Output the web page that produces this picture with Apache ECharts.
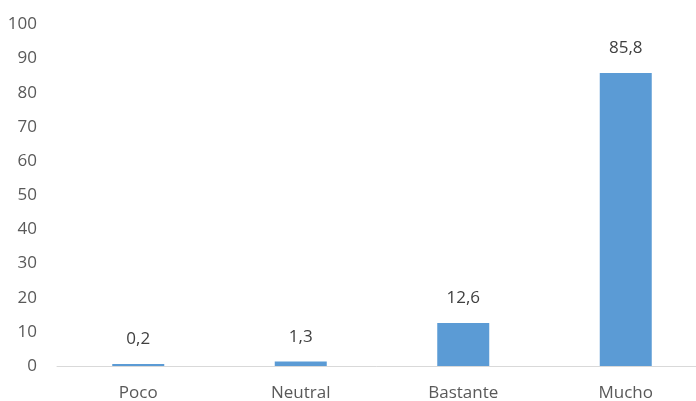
<!DOCTYPE html>
<html><head><meta charset="utf-8">
<script src="https://cdn.jsdelivr.net/npm/echarts@6/dist/echarts.min.js"></script>
<style>html,body{margin:0;padding:0;background:#fff}#c{width:696px;height:401px}</style>
</head><body><div id="c"></div>
<script>
var categories = ['Poco', 'Neutral', 'Bastante', 'Mucho'];
var values = [0.2, 1.3, 12.6, 85.8];
var yTicks = {min: 0, max: 100, interval: 10};

var FONT = 'Open Sans';
var chart = echarts.init(document.getElementById('c'), null, {renderer: 'canvas'});
chart.setOption({
  animation: false,
  grid: {left: 57, top: 24.5, width: 650, bottom: 35, containLabel: false, outerBoundsMode: 'none'},
  xAxis: {
    type: 'category', data: categories,
    axisLine: {lineStyle: {color: '#D9D9D9', width: 1}},
    axisTick: {show: false},
    axisLabel: {color: '#595959', fontSize: 17, fontFamily: FONT, margin: 19}
  },
  yAxis: {
    type: 'value', min: yTicks.min, max: yTicks.max, interval: yTicks.interval,
    axisLine: {show: false}, axisTick: {show: false}, splitLine: {show: false},
    axisLabel: {color: '#595959', fontSize: 17, fontFamily: FONT, margin: 20}
  },
  series: [{
    type: 'bar', data: values, barWidth: 52, barMinHeight: 2,
    itemStyle: {color: '#5B9BD5'},
    label: {show: true, position: 'top', distance: 16, color: '#404040', fontSize: 17, fontFamily: FONT,
      formatter: function (p) { return String(p.value).replace('.', ','); }}
  }]
});
</script></body></html>
